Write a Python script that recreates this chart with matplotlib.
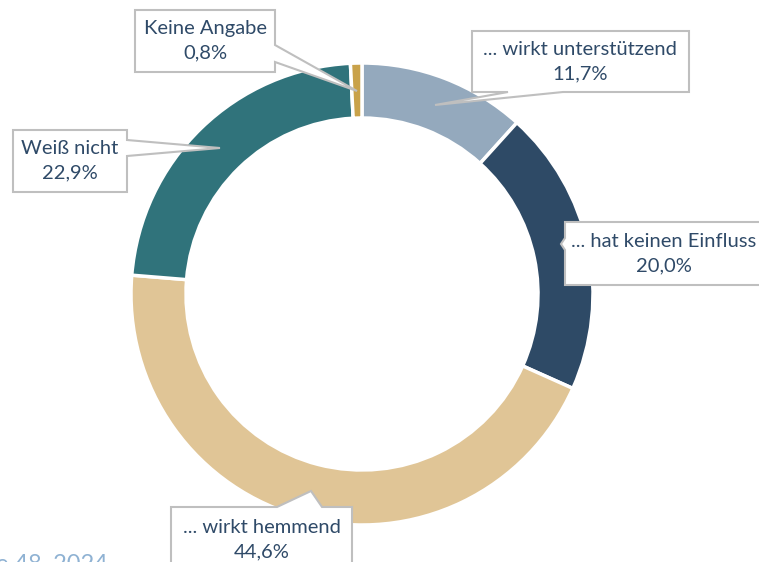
import matplotlib.pyplot as plt
from matplotlib.patches import Polygon

# Anteile im Uhrzeigersinn, beginnend oben
labels = ["... wirkt unterstützend", "... hat keinen Einfluss", "... wirkt hemmend",
          "Weiß nicht", "Keine Angabe"]
values = [11.7, 20.0, 44.6, 22.9, 0.8]
colors = ["#94a9bd", "#2e4a66", "#e0c596", "#30737b", "#c9a24a"]

TEXT_COLOR = "#2f4a68"
plt.rcParams['font.family'] = ['Lato', 'DejaVu Sans']

fig = plt.figure(figsize=(7.59, 5.62), dpi=100)
ax = fig.add_axes([0, 0, 1, 1])

# Pixelkoordinaten, y nach unten -> Startwinkel -90 und gegen den Uhrzeigersinn
ax.pie(values, colors=colors, startangle=-90, counterclock=True,
       center=(362, 294), radius=231,
       wedgeprops=dict(width=55, edgecolor="white", linewidth=2.5))
ax.set_xlim(0, 759)
ax.set_ylim(562, 0)
ax.set_aspect('equal')
ax.axis('off')


def fmt(i):
    return labels[i] + "\n" + f"{values[i]:.1f}".replace(".", ",") + "%"


def callout(outline, cx, cy, text):
    """outline: Umriss inkl. Zeiger (Pixel); cx, cy: Textmitte."""
    poly = Polygon(outline, closed=True, facecolor="white", edgecolor="#bfbfbf",
                   linewidth=1.5, zorder=5, joinstyle="miter")
    ax.add_patch(poly)
    ax.text(cx, cy, text, ha="center", va="center", fontsize=14.5,
            color=TEXT_COLOR, zorder=6, linespacing=1.55)


# ... wirkt unterstützend
callout([(472, 31), (689, 31), (689, 92), (563, 92), (435, 105), (508, 92),
         (472, 92)], 580, 62, fmt(0))

# ... hat keinen Einfluss
callout([(565, 222), (780, 222), (780, 285), (565, 285), (565, 250), (561, 244),
         (565, 238)], 664, 254, fmt(1))

# ... wirkt hemmend
callout([(171, 507), (277, 507), (311, 491), (322, 507), (352, 507),
         (352, 580), (171, 580)], 262, 540, fmt(2))

# Weiß nicht
callout([(13, 130), (127, 130), (127, 140), (220, 148), (127, 156),
         (127, 192), (13, 192)], 70, 161, fmt(3))

# Keine Angabe
callout([(135, 10), (275, 10), (275, 45), (357, 91), (275, 62),
         (275, 72), (135, 72)], 205, 41, fmt(4))

ax.text(-4, 571, "e 48, 2024", fontsize=17, color="#8fb2d3", ha="left",
        va="baseline")

fig.savefig("out.png", dpi=100)
